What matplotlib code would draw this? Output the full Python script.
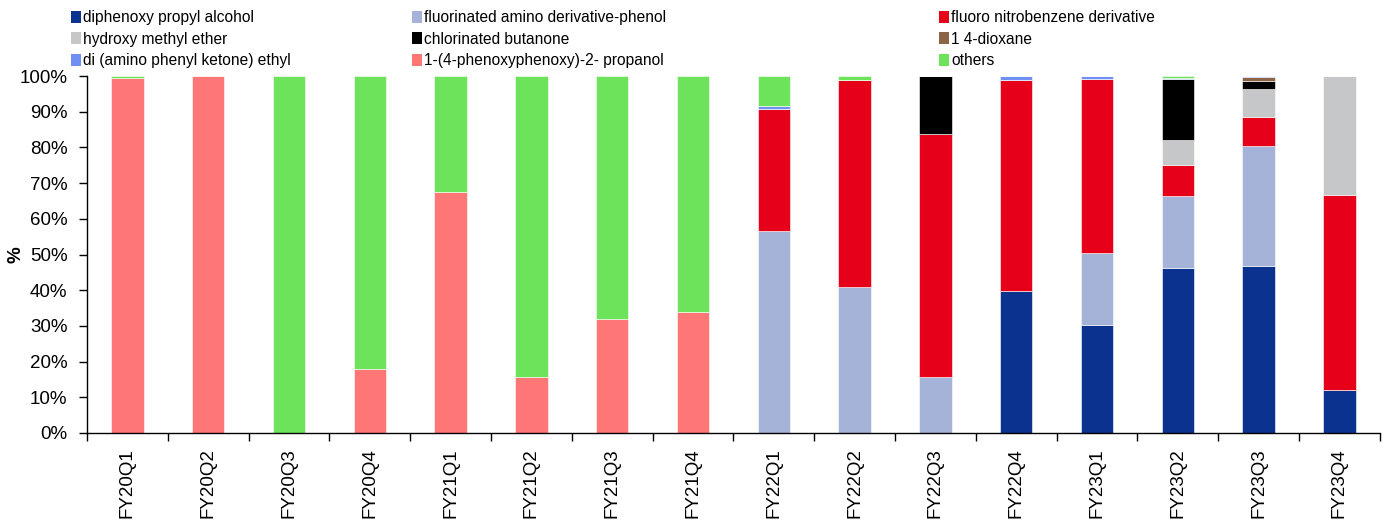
import numpy as np
import matplotlib
matplotlib.use("Agg")
import matplotlib.pyplot as plt
from matplotlib.ticker import FuncFormatter

plt.rcParams['font.family'] = ['Liberation Sans', 'DejaVu Sans']

quarters = ['FY20Q1', 'FY20Q2', 'FY20Q3', 'FY20Q4', 'FY21Q1', 'FY21Q2', 'FY21Q3', 'FY21Q4',
            'FY22Q1', 'FY22Q2', 'FY22Q3', 'FY22Q4', 'FY23Q1', 'FY23Q2', 'FY23Q3', 'FY23Q4']

# share of each compound (%), bottom of stack first
diphenoxy    = [0, 0, 0, 0, 0, 0, 0, 0, 0, 0, 0, 39.8, 30.3, 46.3, 46.7, 12.1]
fluorinated  = [0, 0, 0, 0, 0, 0, 0, 0, 56.6, 40.9, 15.8, 0, 20.1, 20.1, 33.7, 0]
fluoro_nitro = [0, 0, 0, 0, 0, 0, 0, 0, 34.2, 58.0, 68.0, 59.2, 48.8, 8.7, 8.0, 54.6]
hydroxy      = [0, 0, 0, 0, 0, 0, 0, 0, 0, 0, 0, 0, 0, 7.0, 7.9, 33.2]
chlorinated  = [0, 0, 0, 0, 0, 0, 0, 0, 0, 0, 16.2, 0, 0, 17.1, 2.3, 0]
dioxane      = [0, 0, 0, 0, 0, 0, 0, 0, 0, 0, 0, 0, 0, 0, 1.2, 0]
di_amino     = [0, 0, 0, 0, 0, 0, 0, 0, 0.8, 0, 0, 1.0, 0.8, 0.3, 0.2, 0]
phenoxy_prop = [99.5, 100, 0, 18.0, 67.4, 15.8, 32.0, 33.8, 0, 0, 0, 0, 0, 0, 0, 0]
others       = [0.5, 0, 100, 82.0, 32.6, 84.2, 68.0, 66.2, 8.4, 1.1, 0, 0, 0, 0.5, 0, 0.1]

series = [
    ('diphenoxy propyl alcohol', diphenoxy, '#0B328E'),
    ('fluorinated amino derivative-phenol', fluorinated, '#A6B3D8'),
    ('fluoro nitrobenzene derivative', fluoro_nitro, '#E60019'),
    ('hydroxy methyl ether', hydroxy, '#C6C7C9'),
    ('chlorinated butanone', chlorinated, '#000000'),
    ('1 4-dioxane', dioxane, '#8B6545'),
    ('di (amino phenyl ketone) ethyl', di_amino, '#6F8FF2'),
    ('1-(4-phenoxyphenoxy)-2- propanol', phenoxy_prop, '#FF7676'),
    ('others', others, '#6DE35B'),
]

fig = plt.figure(figsize=(13.91, 5.21), dpi=100)
ax = fig.add_axes([0.0625, 0.169, 0.9295, 0.685])

x = np.arange(len(quarters))
bottom = np.zeros(len(quarters))
handles = {}
for name, vals, col in series:
    vals = np.array(vals, dtype=float)
    b = ax.bar(x, vals, 0.4, bottom=bottom, color=col, edgecolor='white', linewidth=0.4, label=name)
    handles[name] = b
    bottom += vals

ax.set_xlim(-0.5, len(quarters) - 0.5)
ax.set_ylim(0, 100)
ax.set_yticks(np.arange(0, 101, 10))
ax.yaxis.set_major_formatter(FuncFormatter(lambda v, p: '%d%%' % v))
ax.tick_params(axis='y', direction='out', length=6, width=1, pad=8, labelsize=13.5)
ax.set_xticks(x)
ax.set_xticklabels(quarters, rotation=90, fontsize=13.5)
ax.tick_params(axis='x', length=0, pad=11)
ax.set_xticks(np.arange(-0.5, len(quarters), 1), minor=True)
ax.tick_params(axis='x', which='minor', direction='out', length=6, width=1)
for s in ['top', 'right']:
    ax.spines[s].set_visible(False)
ax.spines['left'].set_linewidth(1)
ax.spines['bottom'].set_linewidth(1)
ax.set_ylabel('%', fontsize=13.5, fontweight='bold')
ax.yaxis.set_label_coords(-0.048, 0.5)

# legend: three separate columns to match uneven spacing
cols = [
    (['diphenoxy propyl alcohol', 'hydroxy methyl ether', 'di (amino phenyl ketone) ethyl'], 71),
    (['fluorinated amino derivative-phenol', 'chlorinated butanone', '1-(4-phenoxyphenoxy)-2- propanol'], 412),
    (['fluoro nitrobenzene derivative', '1 4-dioxane', 'others'], 939),
]
for names, px in cols:
    leg = fig.legend([handles[n] for n in names], names, loc='upper left',
                     bbox_to_anchor=(px / 1391, 1 - 10 / 521), frameon=False,
                     fontsize=11.2, handlelength=0.62, handleheight=0.8,
                     handletextpad=0.18, labelspacing=0.42, borderpad=0, borderaxespad=0)
    for h in leg.legend_handles:
        h.set_linewidth(0)

fig.savefig('out.png', dpi=100)
